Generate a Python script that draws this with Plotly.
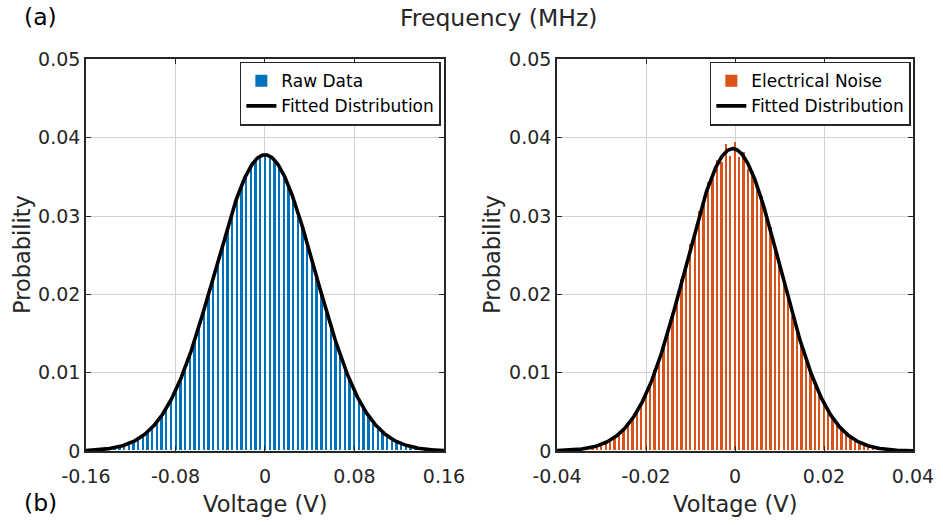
import numpy as np
import plotly.graph_objects as go

# ---- (a) raw data histogram: bin width 0.0042 V, bins k = -36..36 ----
raw_bin_width = 0.0042
raw_bin_index = list(range(-36, 37))
raw_prob = [
    0.000133, 0.000182, 0.000245, 0.000328, 0.000436, 0.000573, 0.000748, 0.000967,
    0.00124, 0.00157, 0.00198, 0.00248, 0.00307, 0.00376, 0.00458, 0.00552,
    0.00660, 0.00782, 0.00919, 0.01071, 0.01236, 0.01415, 0.01605, 0.01806,
    0.02013, 0.02226, 0.02439, 0.02649, 0.02853, 0.03045, 0.03223, 0.03381,
    0.03516, 0.03625, 0.03705, 0.03754, 0.03770, 0.03754, 0.03705, 0.03625,
    0.03516, 0.03381, 0.03223, 0.03045, 0.02853, 0.02649, 0.02439, 0.02226,
    0.02013, 0.01806, 0.01605, 0.01415, 0.01236, 0.01071, 0.00919, 0.00782,
    0.00660, 0.00552, 0.00458, 0.00376, 0.00307, 0.00248, 0.00198, 0.00157,
    0.00124, 0.000967, 0.000748, 0.000573, 0.000436, 0.000328, 0.000245, 0.000182,
    0.000133,
]

# ---- (b) electrical noise histogram: bin width 0.001 V, bins k = -38..37 ----
noise_bin_width = 0.001
noise_bin_index = list(range(-38, 38))
noise_prob = [
    0.00008, 0.00011, 0.00016, 0.00021, 0.00029, 0.00038, 0.00051, 0.00066,
    0.00087, 0.00110, 0.00143, 0.00177, 0.00228, 0.00277, 0.00349, 0.00417,
    0.00518, 0.00606, 0.00741, 0.00853, 0.01024, 0.01158, 0.01366, 0.01518,
    0.01760, 0.01921, 0.02190, 0.02348, 0.02632, 0.02771, 0.03055, 0.03158,
    0.03425, 0.03472, 0.03705, 0.03680, 0.03910, 0.03760, 0.03940, 0.03750,
    0.03810, 0.03590, 0.03575, 0.03325, 0.03248, 0.02965, 0.02850, 0.02560,
    0.02412, 0.02132, 0.01972, 0.01712, 0.01558, 0.01330, 0.01188, 0.00996,
    0.00876, 0.00720, 0.00622, 0.00503, 0.00428, 0.00340, 0.00284, 0.00221,
    0.00182, 0.00139, 0.00113, 0.00084, 0.00067, 0.00049, 0.00039, 0.00028,
    0.00022, 0.00015, 0.00012, 0.00008,
]

raw_ticks = [-0.16, -0.08, 0, 0.08, 0.16]
raw_tick_text = ["-0.16", "-0.08", "0", "0.08", "0.16"]
noise_ticks = [-0.04, -0.02, 0, 0.02, 0.04]
noise_tick_text = ["-0.04", "-0.02", "0", "0.02", "0.04"]
prob_ticks = [0, 0.01, 0.02, 0.03, 0.04, 0.05]
prob_tick_text = ["0", "0.01", "0.02", "0.03", "0.04", "0.05"]


def gaussian_fit(centers, prob, width, x):
    """Normal fit (moments of the histogram), scaled to bin probability."""
    c = np.asarray(centers, float)
    p = np.asarray(prob, float)
    total = p.sum()
    mu = (p * c).sum() / total
    sigma = np.sqrt((p * (c - mu) ** 2).sum() / total)
    return total * width / (sigma * np.sqrt(2 * np.pi)) * np.exp(-(x - mu) ** 2 / (2 * sigma ** 2))


raw_centers = np.array(raw_bin_index) * raw_bin_width
noise_centers = np.array(noise_bin_index) * noise_bin_width
raw_x = np.linspace(-0.16, 0.16, 500)
noise_x = np.linspace(-0.04, 0.04, 500)

BLUE = "#0072BD"
ORANGE = "#D95319"
INK = "#262626"
FONT = "DejaVu Sans, sans-serif"

fig = go.Figure()
fig.add_trace(go.Bar(x=raw_centers, y=raw_prob, width=raw_bin_width * 0.5,
                     marker=dict(color=BLUE, line=dict(width=0)),
                     name="Raw Data", xaxis="x", yaxis="y", legend="legend"))
fig.add_trace(go.Scatter(x=raw_x, y=gaussian_fit(raw_centers, raw_prob, raw_bin_width, raw_x),
                         mode="lines", line=dict(color="black", width=3.6),
                         name="Fitted Distribution", xaxis="x", yaxis="y", legend="legend"))
fig.add_trace(go.Bar(x=noise_centers, y=noise_prob, width=noise_bin_width * 0.42,
                     marker=dict(color=ORANGE, line=dict(width=0)),
                     name="Electrical Noise", xaxis="x2", yaxis="y2", legend="legend2"))
fig.add_trace(go.Scatter(x=noise_x, y=gaussian_fit(noise_centers, noise_prob, noise_bin_width, noise_x),
                         mode="lines", line=dict(color="black", width=3.6),
                         name="Fitted Distribution", xaxis="x2", yaxis="y2", legend="legend2"))

axis_common = dict(
    showline=True, linecolor=INK, linewidth=1.6, mirror="ticks",
    ticks="inside", ticklen=5, tickwidth=1.2, tickcolor=INK,
    showgrid=True, gridcolor="#d2d2d2", gridwidth=1.2,
    zeroline=False, tickfont=dict(family=FONT, size=19, color=INK),
    automargin=False, fixedrange=True,
)

y_dom = [0.141, 0.8867]
legend_common = dict(
    yanchor="top", xanchor="right", y=0.8825,
    bgcolor="white", bordercolor=INK, borderwidth=1.5,
    font=dict(family=FONT, size=17, color="black"),
    itemwidth=30, tracegroupgap=0, traceorder="normal",
)

fig.update_layout(
    width=943, height=525, autosize=False,
    margin=dict(l=0, r=0, t=0, b=0),
    paper_bgcolor="white", plot_bgcolor="white",
    bargap=0, barmode="overlay",
    showlegend=True,
    xaxis=dict(domain=[0.0912, 0.4708], range=[-0.16, 0.16], tickvals=raw_ticks,
               ticktext=raw_tick_text, anchor="y", ticklabelstandoff=7, **axis_common),
    yaxis=dict(domain=y_dom, range=[0, 0.05], tickvals=prob_ticks,
               ticktext=prob_tick_text, anchor="x", **axis_common),
    xaxis2=dict(domain=[0.5907, 0.9682], range=[-0.04, 0.04], tickvals=noise_ticks,
                ticktext=noise_tick_text, anchor="y2", ticklabelstandoff=7, **axis_common),
    yaxis2=dict(domain=y_dom, range=[0, 0.05], tickvals=prob_ticks,
                ticktext=prob_tick_text, anchor="x2", **axis_common),
    legend=dict(x=0.4675, **legend_common),
    legend2=dict(x=0.9659, **legend_common),
)

title_font = dict(family=FONT, size=22.5, color=INK)
label_font = dict(family=FONT, size=23.5, color="black")
annotations = [
    dict(text="Frequency (MHz)", x=398 / 943, y=1 - 18 / 525, xanchor="left", yanchor="middle",
         font=dict(family=FONT, size=23.5, color=INK)),
    dict(text="(a)", x=22 / 943, y=1 - 17 / 525, xanchor="left", yanchor="middle", font=label_font),
    dict(text="(b)", x=22 / 943, y=1 - 503 / 525, xanchor="left", yanchor="middle", font=label_font),
    dict(text="Voltage (V)", x=265 / 943, y=1 - 504 / 525, xanchor="center", yanchor="middle", font=title_font),
    dict(text="Voltage (V)", x=735 / 943, y=1 - 504 / 525, xanchor="center", yanchor="middle", font=title_font),
    dict(text="Probability", x=22 / 943, y=1 - 255 / 525, xanchor="center", yanchor="middle",
         textangle=-90, font=title_font),
    dict(text="Probability", x=492 / 943, y=1 - 255 / 525, xanchor="center", yanchor="middle",
         textangle=-90, font=title_font),
]
for a in annotations:
    a.update(xref="paper", yref="paper", showarrow=False)
fig.update_layout(annotations=annotations)

fig.write_html("out.html")
